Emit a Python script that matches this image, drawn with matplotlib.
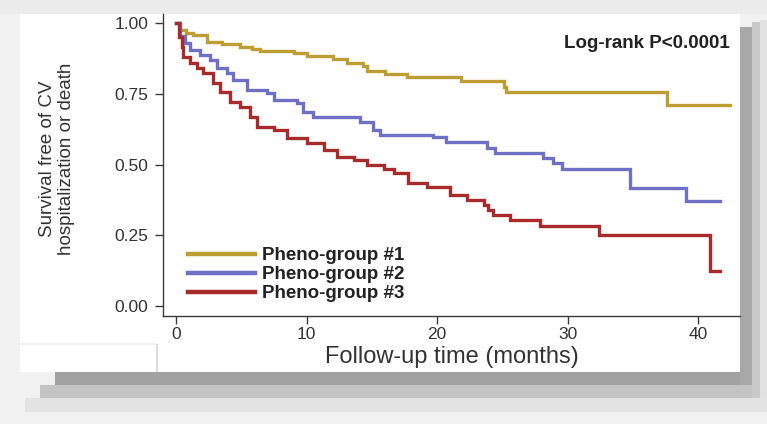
import matplotlib
matplotlib.use("Agg")
import matplotlib.pyplot as plt
from matplotlib.patches import Rectangle

# ---------------- data ----------------
group_labels = ["Pheno-group #1", "Pheno-group #2", "Pheno-group #3"]
group_colors = ["#BD9E33", "#6F6FC6", "#A92A2B"]

t_g1 = [0, 0.3, 0.8, 1.3, 2.35, 3.5, 4.9, 5.8, 6.4, 9.0, 10.0, 12.0, 13.1,
        14.3, 14.6, 16.0, 17.7, 21.8, 25.1, 25.3, 37.6, 42.4]
s_g1 = [1.0, 0.975, 0.965, 0.958, 0.934, 0.925, 0.916, 0.908, 0.902, 0.893,
        0.883, 0.872, 0.860, 0.848, 0.831, 0.820, 0.810, 0.795, 0.775, 0.757,
        0.710, 0.710]

t_g2 = [0, 0.3, 0.7, 1.07, 1.84, 2.6, 3.1, 3.9, 4.4, 5.4, 6.95, 7.5, 9.25,
        9.76, 10.5, 14.1, 15.1, 15.6, 19.7, 20.7, 23.8, 24.4, 28.1, 28.9,
        29.6, 34.8, 39.1, 41.7]
s_g2 = [1.0, 0.955, 0.928, 0.905, 0.887, 0.869, 0.840, 0.822, 0.800, 0.763,
        0.752, 0.728, 0.716, 0.687, 0.669, 0.651, 0.622, 0.604, 0.598, 0.580,
        0.557, 0.540, 0.522, 0.505, 0.483, 0.418, 0.371, 0.371]

t_g3 = [0, 0.2, 0.43, 0.56, 1.07, 1.6, 2.1, 2.86, 3.37, 4.1, 4.9, 5.67, 6.2,
        7.5, 8.5, 10.0, 11.3, 12.3, 13.6, 14.6, 15.9, 16.7, 17.8, 19.2, 21.0,
        22.3, 23.6, 23.9, 24.3, 25.6, 27.9, 32.4, 40.9, 41.7]
s_g3 = [1.0, 0.950, 0.916, 0.881, 0.858, 0.840, 0.822, 0.787, 0.757, 0.722,
        0.704, 0.669, 0.634, 0.622, 0.593, 0.575, 0.553, 0.528, 0.515, 0.498,
        0.486, 0.469, 0.434, 0.422, 0.392, 0.375, 0.357, 0.339, 0.322, 0.304,
        0.283, 0.251, 0.125, 0.125]

x_ticks = [0, 10, 20, 30, 40]
y_ticks = [0.00, 0.25, 0.50, 0.75, 1.00]
x_label = "Follow-up time (months)"
y_label = "Survival free of CV\nhospitalization or death"
annotation = "Log-rank P<0.0001"

# ---------------- figure ----------------
W, H = 767, 424
plt.rcParams["font.family"] = ["Liberation Sans", "DejaVu Sans"]
fig = plt.figure(figsize=(W / 100, H / 100), dpi=100, facecolor="#f1f1f1")


def rect(x0, y0, x1, y1, color, z=0, **kw):
    fig.add_artist(Rectangle((x0 / W, 1 - y1 / H), (x1 - x0) / W, (y1 - y0) / H,
                             transform=fig.transFigure, facecolor=color,
                             edgecolor="none", zorder=z, **kw))


# page shadows / panel decoration
rect(0, 0, W, 14, "#ececec", z=0)
rect(25, 398, 767, 412, "#e3e3e3", z=0)
rect(40, 385, 760, 398, "#c3c3c3", z=0)
rect(55, 372, 752, 385, "#a2a2a2", z=0)
rect(760, 20, 767, 398, "#e2e2e2", z=0)
rect(752, 22, 760, 398, "#c9c9c9", z=0)
rect(740, 27, 752, 385, "#a8a8a8", z=0)
rect(20, 14, 740, 372, "white", z=0.5)
rect(156, 344, 158, 372, "#dcdcdc", z=0.6)
rect(20, 343, 156, 344.5, "#efefef", z=0.6)

# axes
ax_left, ax_right, ax_top, ax_bottom = 163, 740, 14, 316
ax = fig.add_axes([ax_left / W, 1 - ax_bottom / H,
                   (ax_right - ax_left) / W, (ax_bottom - ax_top) / H])
ax.set_facecolor("none")
ax.set_zorder(2)

for t, s, c, lab in zip([t_g1, t_g2, t_g3], [s_g1, s_g2, s_g3],
                        group_colors, group_labels):
    ax.step(t, s, where="post", color=c, lw=2.4, label=lab,
            solid_joinstyle="miter")

ax.set_xlim(-1.0, 43.2)
ax.set_ylim(-0.035, 1.032)
ax.set_xticks(x_ticks)
ax.set_xticklabels([str(v) for v in x_ticks])
ax.set_yticks(y_ticks)
ax.set_yticklabels([f"{v:.2f}" for v in y_ticks])

for side in ["top", "right"]:
    ax.spines[side].set_visible(False)
for side in ["left", "bottom"]:
    ax.spines[side].set_color("#3a3a3a")
    ax.spines[side].set_linewidth(1.0)
ax.tick_params(axis="both", length=5.5, width=1.0, color="#3a3a3a",
               labelcolor="#333333", labelsize=12.5)
ax.tick_params(axis="y", pad=5)
ax.tick_params(axis="x", pad=2.5)

ax.set_xlabel(x_label, fontsize=17, color="#333333", labelpad=3)
fig.text(57 / W, 1 - 159 / H, y_label, rotation=90, ha="center", va="center",
         multialignment="center", fontsize=13.5, color="#333333",
         linespacing=1.2)

fig.text(730 / W, 1 - 43 / H, annotation, ha="right", va="center",
         fontsize=13.5, fontweight="bold", color="#222222")

leg = ax.legend(loc="upper left", bbox_to_anchor=(188 / W, 1 - 247 / H),
                bbox_transform=fig.transFigure, frameon=False,
                borderpad=0, borderaxespad=0, handlelength=3.55,
                handletextpad=0.37, labelspacing=0.1,
                prop={"weight": "bold", "size": 13.5})
for txt in leg.get_texts():
    txt.set_color("#222222")
for ln in leg.get_lines():
    ln.set_linewidth(3.2)

fig.savefig("out.png", dpi=100, facecolor=fig.get_facecolor())
